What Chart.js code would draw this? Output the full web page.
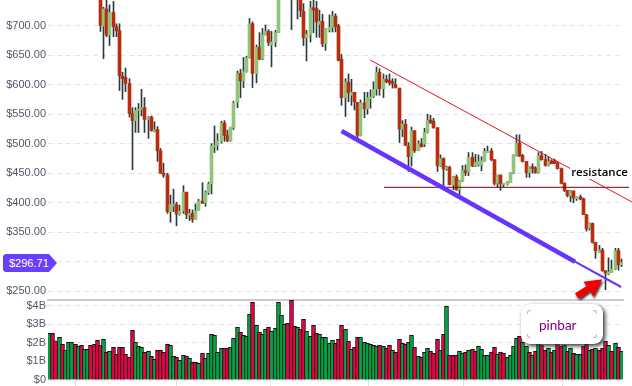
<!DOCTYPE html>
<html>
<head>
<meta charset="utf-8">
<style>
html, body { margin: 0; padding: 0; background: #fff; }
#wrap { position: relative; width: 632px; height: 386px; overflow: hidden; }
canvas { position: absolute; left: 0; }
#price-chart { top: 0; }
#volume-chart { top: 300px; }
#price-tag { position: absolute; left: 3px; top: 254px; width: 54px; height: 18px; background: #6a3ffb; color: #fff;
  font: 11px/18px "Liberation Sans", sans-serif; text-indent: 6px;
  clip-path: polygon(2px 0, 46px 0, 54px 9px, 46px 18px, 2px 18px, 0 16px, 0 2px); }
#resistance { position: absolute; left: 570px; top: 164px; width: 58px; height: 15px; background: #fff; color: #000;
  font: 600 11.5px/15px "Open Sans", sans-serif; text-align: right; }
#pinbar { position: absolute; left: 521px; top: 304px; width: 82px; height: 40px; background: #fff; border-radius: 9px;
  box-shadow: 2px 2px 4px #333; color: #800080; font: 13.5px/43px Lato, sans-serif; text-indent: 18px; }
.corner { position: absolute; width: 3px; height: 3px; border: 0 solid #bbb; }
#arrow { position: absolute; left: 570px; top: 274px; }
</style>
</head>
<body>
<div id="wrap">
  <canvas id="price-chart" width="632" height="302"></canvas>
  <canvas id="volume-chart" width="632" height="86"></canvas>
  <div id="price-tag">$296.71</div>
  <div id="resistance">resistance</div>
  <div id="pinbar">pinbar
    <span class="corner" style="left:6px;top:6px;border-width:1px 0 0 1px;border-top-left-radius:3px"></span>
    <span class="corner" style="right:6px;top:6px;border-width:1px 1px 0 0;border-top-right-radius:3px"></span>
    <span class="corner" style="left:6px;bottom:6px;border-width:0 0 1px 1px;border-bottom-left-radius:3px"></span>
    <span class="corner" style="right:6px;bottom:6px;border-width:0 1px 1px 0;border-bottom-right-radius:3px"></span>
  </div>
  <svg id="arrow" width="40" height="30">
    <defs><filter id="soft"><feDropShadow dx="1" dy="2" stdDeviation="1" flood-color="#333"/></filter></defs>
    <path d="M13.3 7.7 L32.3 5.3 L23.3 22.7 L20 16.7 L10 24.3 Q7 24 5 19.3 L16.7 12 Z" fill="#f00000" filter="url(#soft)"/>
  </svg>
</div>
<script src="https://cdn.jsdelivr.net/npm/chart.js@4"></script>
<script>
// first 16 sessions sit above the visible price range, only their volume shows
const firstCandle = 16;

const opens = [743,699,728,684,722,698,691,614,612,602,551,539,556,558,561,541,545,521,524,488,450,447,385,394,397,380,386,418,379,382,372,387,403,400,417,432,495,497,
  504,535,514,505,527,570,619,606,622,646,703,619,663,643,684,690,667,672,688,760,780,770,775,755,760,750,724,
  679,684,730,729,702,707,669,692,697,716,699,643,578,604,582,587,570,514,569,559,576,580,592,621,593,609,607,605,600,594,525,533,496,478,522,488,
  500,499,519,540,538,527,462,475,457,460,430,444,422,437,455,452,477,462,464,464,471,485,488,473,433,447,431,431,434,450,480,501,480,470,451,461,459,451,480,473,463,471,471,467,458,433,421,412,420,407,410,407,380,357,365,333,316,320,285,279,282,288,319,295];
const highs = [760,731,745,735,741,703,703,621,628,610,561,561,568,592,578,546,547,537,529,492,467,450,413,423,401,396,429,418,389,388,398,406,434,420,435,500,530,517,
  538,539,523,528,572,623,626,646,648,712,706,667,688,695,701,693,690,692,760,790,795,790,785,770,770,760,737,
  692,741,745,741,726,719,695,718,724,720,702,651,610,618,609,587,570,574,587,587,591,605,630,627,618,616,618,610,610,594,539,541,502,528,522,505,
  509,526,550,548,543,527,481,476,462,462,445,447,438,463,464,485,485,482,481,478,492,496,492,473,447,447,433,436,451,481,515,515,482,470,461,466,461,485,487,482,478,473,474,470,459,434,421,421,420,410,413,408,380,366,366,333,328,323,285,307,303,323,323,305];
const lows = [690,644,681,666,681,681,590,575,588,545,456,519,519,547,519,509,521,520,470,450,443,382,367,385,361,379,382,373,370,367,372,387,399,394,414,415,485,489,
  501,504,503,504,524,561,578,595,621,645,595,603,642,642,684,666,630,664,688,750,760,755,693,748,711,715,666,
  640,672,688,680,680,664,658,689,689,689,640,565,546,571,565,557,510,513,544,550,560,578,582,582,578,603,599,594,594,502,512,497,453,462,485,488,
  494,495,518,534,526,453,461,426,455,430,422,421,413,436,446,446,461,461,462,454,470,485,471,430,426,421,427,430,434,449,479,478,469,443,443,450,450,450,472,462,462,466,466,457,432,419,410,402,400,404,405,380,352,354,332,306,316,284,253,278,282,287,286,292];
const closes = [700,728,684,722,698,691,615,610,602,551,539,556,558,561,541,544,522,524,488,450,447,385,397,397,381,386,418,380,382,372,386,403,399,417,432,496,497,505,
  535,514,505,528,569,619,606,622,645,703,619,663,643,684,690,671,672,688,750,780,770,780,755,760,750,725,679,
  685,730,726,706,707,669,695,697,716,698,641,578,604,586,587,571,514,569,559,578,579,592,621,593,609,605,603,602,595,525,533,497,478,522,488,500,
  495,519,540,536,527,463,475,457,460,431,444,422,437,455,451,477,462,468,470,471,487,487,473,433,447,432,433,435,450,481,501,479,470,451,461,458,451,480,473,463,470,466,467,458,433,421,412,420,408,410,406,380,356,365,333,319,320,285,281,283,288,319,295,299];

// volume in $B, side: 1 green, 0 red
const volumes = [2.51,2.51,2.11,2.29,1.92,1.61,2.03,2.03,1.92,1.81,1.86,1.65,1.65,1.86,1.92,2.13,1.86,2.19,1.49,1.54,1.76,1.38,1.76,1.76,1.38,1.22,2.67,2.03,1.81,1.76,1.49,1.54,1.27,1.11,1.59,1.59,1.49,1.92,1.86,1.27,1.22,1.06,1.33,1.27,1.16,0.95,0.95,0.90,1.43,1.16,1.43,2.46,2.40,1.49,1.70,
  1.70,1.70,1.76,2.24,2.83,2.56,2.40,2.35,3.53,4.18,2.94,2.56,2.46,2.72,2.83,2.62,2.78,4.18,3.48,2.99,3.05,4.28,2.89,2.83,2.72,3.26,2.62,2.35,2.94,2.51,2.46,2.29,2.29,1.97,2.13,1.97,2.19,2.94,2.72,2.08,1.65,1.76,2.29,2.29,2.03,1.97,1.92,1.86,1.81,1.86,1.81,1.70,1.86,1.59,1.49,2.19,1.97,1.92,2.03,2.40,1.76,1.27,
  1.22,1.49,1.70,1.54,1.43,2.19,1.59,2.46,3.96,1.33,1.33,1.33,1.54,1.43,1.49,1.59,1.65,1.54,1.81,1.65,1.33,1.33,1.49,1.76,1.38,1.49,1.43,1.22,1.33,1.81,2.24,2.35,2.03,1.81,1.49,1.33,1.54,1.97,1.88,1.59,1.70,1.49,1.59,1.97,1.81,1.86,1.54,1.70,1.43,1.38,1.38,1.81,1.92,1.59,1.65,1.70,1.59,1.70,2.08,1.86,1.54,1.97,1.76,1.54];
const volumeSides = [1,0,0,1,0,1,1,1,0,1,0,1,1,0,0,0,0,1,0,1,0,0,0,0,0,0,0,1,1,1,0,1,0,1,0,0,0,0,1,1,0,1,1,0,1,0,0,1,0,1,1,1,1,1,1,
  0,0,1,1,1,0,1,1,1,0,1,0,1,1,0,1,1,1,1,1,0,0,0,1,0,0,1,1,0,0,1,1,1,1,1,0,0,0,1,0,1,0,0,1,1,1,1,1,1,0,1,0,0,1,0,0,1,0,1,1,0,1,
  0,1,1,0,0,0,1,0,1,0,0,0,1,1,0,1,0,0,1,1,1,1,0,0,1,0,0,1,1,1,1,0,1,1,0,1,0,1,0,0,1,0,1,0,0,1,0,1,0,1,1,0,0,1,0,1,0,0,0,1,0,1,0,1];

const priceTicks = { step: 50, min: 235.5, max: 743.15 };
const volumeTicks = { step: 1, min: 0, max: 4.3 };
const volumeMarks = [8.3, 39.8, 69.4, 100.5, 130.4, 161.6];

// hand drawn lines on the original, [session, price]
const supportThick = [[91.9, 521.5], [165.4, 300.3]];
const supportThin = [[165.4, 300.3], [179.9, 257.5]];
const resistanceLine = [[100.9, 641.6], [183.3, 401.4]];
const levelLine = [[105.3, 426.2], [182.4, 426.2]];

const upColor = '#8fc47a';
const downColor = '#b92c0e';
const wickColor = '#2b3a3a';
const labelColor = '#55556a';
const gridColor = '#e4e4ec';
const labelFont = { family: '"Liberation Sans", sans-serif', size: 11 };

const sessions = opens.map((_, i) => i + firstCandle);

// snap bars to whole pixels so they stay crisp like the original
const snapBars = {
    id: 'snapBars',
    afterDatasetsUpdate(chart) {
        chart.data.datasets.forEach((ds, i) => {
            if (ds.type === 'line') return;
            chart.getDatasetMeta(i).data.forEach(bar => {
                bar.x = Math.round(bar.x + 0.5) - 0.5;
            });
        });
    }
};

function lineDataset(points, color, width) {
    return {
        type: 'line',
        order: 0,
        clip: false,
        data: points.map(p => ({ x: p[0], y: p[1] })),
        borderColor: color,
        borderWidth: width,
        pointRadius: 0,
        tension: 0
    };
}

function noEdgePadding(s) {
    s.width = 48;
    s.paddingTop = 0;
    s.paddingBottom = 0;
}

const xBounds = { type: 'linear', offset: false, min: -0.5, max: 180.5 };

new Chart(document.querySelector('#price-chart').getContext('2d'), {
    type: 'bar',
    plugins: [snapBars],
    data: {
        datasets: [
            lineDataset(supportThick, '#6633ff', 4.5),
            lineDataset(supportThin, '#6633ff', 2),
            lineDataset(resistanceLine, '#e8102a', 1),
            lineDataset(levelLine, '#7a0010', 1),
            {
                order: 1,
                grouped: false,
                barThickness: 3,
                data: sessions.map((s, i) => ({ x: s, y: [opens[i], closes[i]] })),
                backgroundColor: sessions.map((_, i) => closes[i] >= opens[i] ? upColor : downColor)
            },
            {
                order: 2,
                grouped: false,
                barThickness: 1,
                data: sessions.map((s, i) => ({ x: s, y: [lows[i], highs[i]] })),
                backgroundColor: wickColor
            }
        ]
    },
    options: {
        responsive: false,
        animation: false,
        layout: { padding: { right: 9, bottom: 2 } },
        plugins: { legend: { display: false }, tooltip: { enabled: false } },
        scales: {
            x: {
                ...xBounds,
                grid: { display: false, drawTicks: false, offset: false },
                ticks: { display: false },
                border: { color: '#cccccc', width: 2 },
                afterFit: s => { s.height = 0; }
            },
            y: {
                min: priceTicks.min,
                max: priceTicks.max,
                afterFit: noEdgePadding,
                grid: { color: gridColor, drawTicks: false },
                border: { display: false, dash: [5, 4] },
                ticks: {
                    stepSize: priceTicks.step,
                    includeBounds: false,
                    padding: 2,
                    color: labelColor,
                    font: labelFont,
                    callback: v => '$' + v.toFixed(2)
                }
            }
        }
    }
});

new Chart(document.querySelector('#volume-chart').getContext('2d'), {
    type: 'bar',
    plugins: [snapBars],
    data: {
        datasets: [{
            grouped: false,
            barThickness: 4,
            borderWidth: 1,
            borderColor: '#111111',
            data: volumes.map((v, i) => ({ x: i, y: v })),
            backgroundColor: volumeSides.map(s => s ? '#00a844' : '#ee0044')
        }]
    },
    options: {
        responsive: false,
        animation: false,
        layout: { padding: { right: 9 } },
        plugins: { legend: { display: false }, tooltip: { enabled: false } },
        scales: {
            x: {
                ...xBounds,
                afterBuildTicks: s => { s.ticks = volumeMarks.map(value => ({ value })); },
                afterFit: s => { s.height = 6; },
                grid: { color: '#e0e0e0', drawOnChartArea: false, tickLength: 6, offset: false },
                border: { display: false },
                ticks: { display: false }
            },
            y: {
                min: volumeTicks.min,
                max: volumeTicks.max,
                afterFit: noEdgePadding,
                grid: { color: gridColor, drawTicks: false },
                border: { display: false, dash: [5, 4] },
                ticks: {
                    stepSize: volumeTicks.step,
                    includeBounds: false,
                    padding: 2,
                    color: labelColor,
                    font: labelFont,
                    callback: v => '$' + v + (v ? 'B' : '')
                }
            }
        }
    }
});
</script>
</body>
</html>
